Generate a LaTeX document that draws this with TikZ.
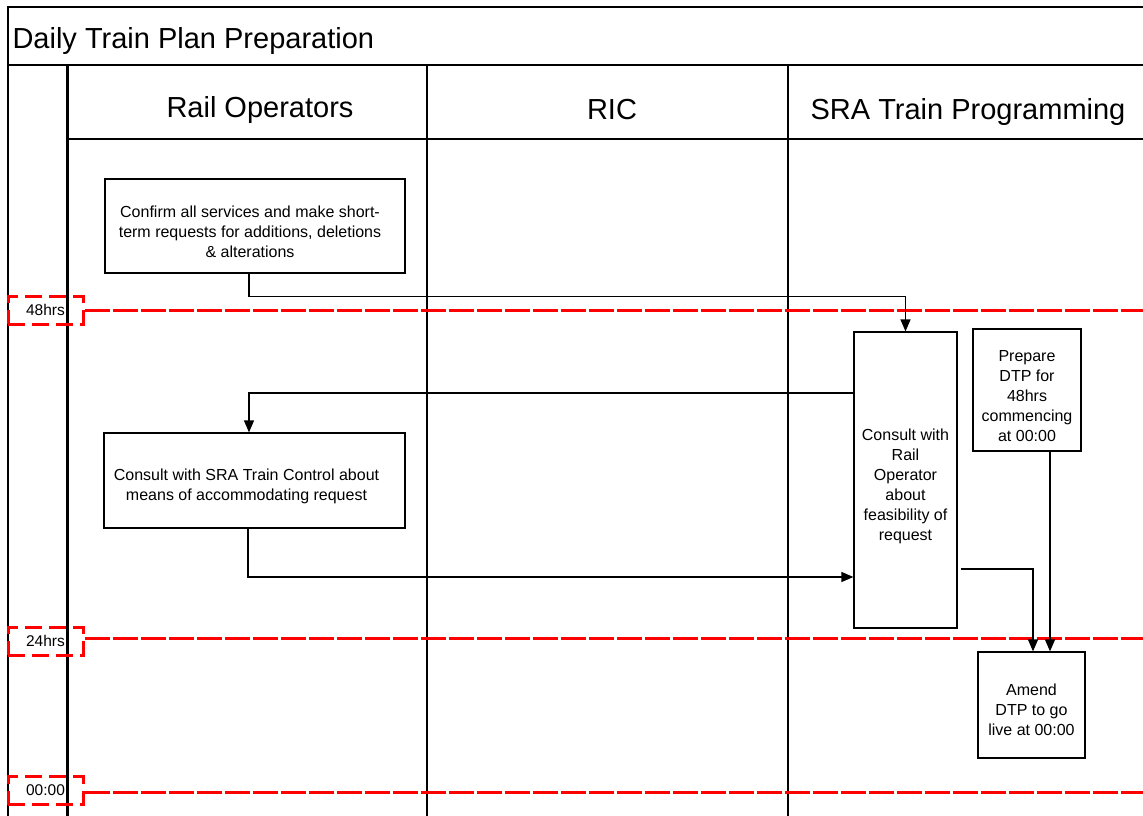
\documentclass[tikz,border=0pt]{standalone}
\usepackage{fontspec}
\setmainfont{Liberation Sans}
\usetikzlibrary{arrows.meta}
\begin{document}
\begin{tikzpicture}[x=1pt,y=-1pt,
 frame/.style={line width=1.2pt,black},
 lane/.style={line width=2.2pt,black},
 box/.style={draw,line width=1.2pt,inner sep=0pt,fill=white},
 boxtext/.style={align=center,font=\fontsize{16}{20}\selectfont,inner sep=0pt},
 conn/.style={line width=1.3pt,-{Triangle[length=12pt,width=10pt]}},
 tmark/.style={draw=red,line width=3pt,dash pattern=on 17pt off 7pt,minimum width=75pt,minimum height=28pt,inner sep=0pt,font=\fontsize{15.5}{18}\selectfont},
 redline/.style={red,line width=3pt,dash pattern=on 25pt off 3pt},
 head/.style={font=\fontsize{29}{34}\selectfont}]
\useasboundingbox (0,0) rectangle (1143,816);
% frame and lanes
\draw[frame] (1143,7) -- (8,7) -- (8,816);
\draw[lane] (8,65) -- (1143,65);
\draw[frame] (67,139) -- (1143,139);
\draw[lane,line width=3pt] (67,65) -- (67,816);
\draw[lane] (427,65) -- (427,816);
\draw[lane] (788,65) -- (788,816);
\node[head,anchor=west] (title) at (9,41) {Daily Train Plan Preparation};
\node[head] (hRO) at (260,110) {Rail Operators};
\node[head] (hRIC) at (612,110) {RIC};
\node[head] (hSRA) at (968,112) {SRA Train Programming};
% time markers
\node[tmark] (t48) at (45.5,310) {48hrs};
\node[tmark] (t24) at (45.5,641) {24hrs};
\node[tmark] (t00) at (45.5,790.5) {00:00};
\draw[redline] (t48.east) -- (1143,310);
\draw[redline] (t24.east |- 0,638) -- (1143,638);
\draw[redline] (t00.east |- 0,792) -- (1143,792);
% boxes
\node[box,minimum width=300,minimum height=94] (A) at (255,226) {};
\node[boxtext] (At) at ([yshift=-6pt,xshift=-5pt]A.center)
 {Confirm all services and make short-\\term requests for additions, deletions\\\& alterations};
\node[box,minimum width=301,minimum height=95] (B) at (254.5,480.5) {};
\node[boxtext] (Bt) at ([yshift=-6pt,xshift=-8pt]B.center)
 {Consult with SRA Train Control about\\means of accommodating request};
\node[box,minimum width=103,minimum height=296] (C) at (905.5,480) {};
\node[boxtext] (Ct) at ([yshift=-6pt]C.center)
 {Consult with\\Rail\\Operator\\about\\feasibility of\\request};
\node[box,minimum width=108,minimum height=122] (D) at (1027,390) {};
\node[boxtext] (Dt) at ([yshift=-6pt]D.center)
 {Prepare\\DTP for\\48hrs\\commencing\\at 00:00};
\node[box,minimum width=107,minimum height=106] (E) at (1031.5,705) {};
\node[boxtext] (Et) at ([yshift=-5pt]E.center)
 {Amend\\DTP to go\\live at 00:00};
% connectors
\draw[conn] ([xshift=-6pt]A.south) -- ++(0,23) -| (C.north);
\draw[conn] ([yshift=87pt]C.west) -| ([xshift=-5.5pt]B.north);
\draw[conn] ([xshift=-6.5pt]B.south) |- ([yshift=-97pt]C.west);
\draw[conn] ([yshift=-89pt,xshift=3pt]C.east) -| ([xshift=1.5pt]E.north);
\draw[conn] ([xshift=23pt]D.south) -- ([xshift=18.5pt]E.north);
\end{tikzpicture}
\end{document}
